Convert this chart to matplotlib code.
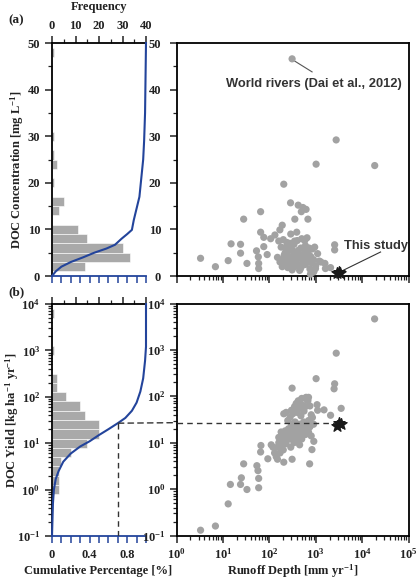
import matplotlib
matplotlib.use('Agg')
import matplotlib.pyplot as plt
import numpy as np
from matplotlib.patches import ConnectionPatch
from matplotlib.ticker import LogLocator, NullFormatter, MultipleLocator

plt.rcParams['font.family'] = ['Liberation Serif', 'DejaVu Serif']
plt.rcParams['font.weight'] = 'bold'
plt.rcParams['mathtext.fontset'] = 'custom'
plt.rcParams['mathtext.rm'] = 'Liberation Serif:bold'
plt.rcParams['mathtext.bf'] = 'Liberation Serif:bold'
plt.rcParams['mathtext.it'] = 'Liberation Serif:italic:bold'
plt.rcParams['axes.linewidth'] = 1.3

# ---------------- data ----------------
# histogram (a): DOC concentration bins (lower edge, width 2 mg/L) and counts
hist_a_lo = [1, 3, 5, 7, 9, 13, 15, 19, 23, 25, 29, 47]
hist_a_counts = [14, 33, 30, 15, 11, 3, 5, 1, 2, 1, 1, 1]
# cumulative curve (a)
cum_a_frac = [0, 0.04, 0.10, 0.20, 0.33, 0.45, 0.58, 0.67, 0.74, 0.80, 0.85, 0.87, 0.90, 0.93, 0.95, 0.97, 0.98, 0.99, 1.0]
cum_a_conc = [0, 1.0, 2.0, 3.0, 4.0, 5.0, 5.9, 6.7, 8.0, 9.0, 9.9, 12, 14.5, 17, 21, 25, 29, 35, 50]

# histogram (b): log10(DOC yield) bins (lower edge, width 0.2) and counts
hist_b_lo = [3.7, 2.9, 2.3, 2.1, 1.9, 1.7, 1.5, 1.3, 1.1, 0.9, 0.7, 0.5, 0.3, 0.1, -0.1]
hist_b_counts = [1, 1, 2, 2, 6, 12, 14, 20, 20, 15, 8, 4, 3, 3, 3]
# cumulative curve (b)
cum_b_frac = [0, 0.01, 0.02, 0.04, 0.07, 0.12, 0.20, 0.30, 0.40, 0.50, 0.60, 0.70, 0.78, 0.85, 0.90, 0.94, 0.97, 0.99, 1.0, 1.0]
cum_b_yield = [0.1, 0.5, 1.0, 1.7, 2.5, 4.0, 6.0, 8.5, 11, 15, 20, 27, 35, 50, 75, 130, 250, 600, 1200, 10000]

# world rivers: runoff [mm/yr] and DOC concentration [mg/L]  (panel a)
runoff_a = [310, 2760, 1020, 18700, 205, 287, 420, 530, 620, 490, 65, 28, 355, 680, 190, 65, 132, 169, 390, 76,
            107, 3.3, 6.9, 13, 15, 24, 24, 33, 53, 58, 59, 59, 76, 90, 2560, 2560, 2090, 1580, 1620, 770,
            910, 990, 160, 180, 200, 220, 240, 260, 280, 300, 320, 340, 360, 380, 400, 420, 440, 460, 480, 500,
            520, 540, 560, 580, 600, 620, 650, 680, 700, 720, 750, 780, 820, 850, 900, 950, 1000, 1100, 1200, 150,
            170, 190, 210, 230, 250, 270, 290, 310, 330, 350, 450, 240, 200, 350, 290, 600, 420, 260, 380, 520,
            640, 560, 470, 330, 230, 700, 800, 1300, 430, 300]
conc_a = [46.6, 29.2, 24.0, 23.7, 19.7, 15.7, 15.2, 14.7, 14.3, 13.8, 13.8, 12.2, 12.2, 12.2, 10.9, 9.4, 8.8, 9.9, 9.4, 8.3,
          8.0, 3.8, 2.0, 3.3, 6.9, 6.8, 4.9, 2.7, 5.4, 4.1, 2.7, 1.6, 6.3, 4.6, 6.7, 5.6, 1.8, 2.7, 1.6, 0.4,
          0.9, 1.6, 7.5, 6.2, 7.8, 5.0, 6.5, 4.2, 7.0, 5.8, 3.5, 6.8, 4.8, 2.8, 7.6, 5.5, 3.9, 2.2, 6.0, 8.0,
          4.5, 3.2, 5.8, 7.6, 2.5, 4.0, 8.2, 5.2, 3.0, 6.0, 1.5, 4.2, 2.8, 5.8, 3.5, 6.2, 2.2, 4.8, 3.2, 4.0,
          3.0, 2.0, 4.5, 3.0, 1.8, 5.5, 2.5, 1.3, 4.2, 2.0, 1.2, 7.2, 3.6, 7.5, 9.0, 6.5, 2.5, 3.2, 4.4, 3.8,
          5.0, 2.4, 1.6, 5.2, 6.0, 4.6, 3.6, 3.0, 4.8, 3.8]

# world rivers: runoff [mm/yr] and DOC yield [kg/ha/yr]  (panel b)
runoff_b = [18600, 2770, 1020, 310, 2560, 2490, 3540, 2090, 1510, 1070, 620, 680, 450, 205, 910, 830, 740, 310, 205, 141,
            150, 93, 66, 65, 28, 54, 57, 59, 59, 25, 14.5, 24, 33, 13, 6.9, 3.3, 230, 250, 280, 300,
            320, 350, 380, 400, 420, 450, 480, 500, 520, 560, 600, 650, 700, 750, 800, 850, 900, 1100, 700, 550,
            600, 500, 450, 400, 350, 300, 260, 220, 200, 180, 160, 150, 170, 190, 210, 240, 270, 290, 320, 340,
            380, 420, 460, 500, 550, 600, 650, 700, 750, 800, 250, 300, 350, 400, 450, 200, 180, 230, 120, 130,
            110, 330, 270, 380, 440, 520, 620, 160, 360, 480]
yield_b = [4650, 850, 240, 150, 186, 145, 55, 39, 51, 66, 95, 81, 69, 42, 10.7, 7.1, 3.5, 4.4, 3.8, 5.0,
           4.4, 4.5, 8.7, 6.3, 3.5, 3.2, 2.5, 1.7, 1.07, 1.75, 1.26, 1.26, 0.98, 0.48, 0.16, 0.13, 45, 30, 35, 50,
           42, 60, 70, 45, 80, 55, 38, 90, 65, 48, 60, 85, 95, 62, 40, 35, 25, 50, 30, 28,
           22, 20, 25, 18, 22, 16, 20, 18, 14, 12, 10, 8, 6, 9, 11, 13, 12, 8, 14, 10,
           15, 13, 16, 12, 18, 15, 19, 17, 22, 14, 15, 25, 18, 11, 9, 7, 17, 9.5, 8, 6,
           9, 12, 16, 20, 14, 24, 19, 13, 28, 21]

# this study
study_runoff_a = [2900, 3150, 3400]
study_conc_a = [0.7, 0.9, 0.6]
study_runoff_b = [2900, 3150, 3450]
study_yield_b = [23, 26, 25]
median_frac = 0.705
median_yield = 27
median_runoff = 2800

# ---------------- styling ----------------
W, H = 416, 580
fig = plt.figure(figsize=(W / 100, H / 100), dpi=100)
BLUE = '#23449b'
GRAY_BAR = '#a9a9a9'
GRAY_PT = '#a2a2a2'
TXT = '#222222'
FS = 9


def ax_px(x0, y0, x1, y1):
    return fig.add_axes([x0 / W, 1 - y1 / H, (x1 - x0) / W, (y1 - y0) / H])


def style_ticks(ax, axis='both'):
    ax.tick_params(axis=axis, which='major', direction='out', length=5, width=1.1, labelsize=FS, colors=TXT)
    ax.tick_params(axis=axis, which='minor', direction='out', length=2.8, width=0.9, colors=TXT)


def freq_on_top(ax, labels):
    ax.xaxis.set_ticks_position('top')
    ax.xaxis.set_label_position('top')
    ax.tick_params(axis='x', which='both', top=True, bottom=False, labeltop=labels, labelbottom=False, pad=3)


# ---------- left panel (a) ----------
ax_fa = ax_px(52, 43, 146, 276)
ax_fa.barh(hist_a_lo, hist_a_counts, height=2, align='edge', color=GRAY_BAR, edgecolor='white', linewidth=0.4)
ax_fa.set_xlim(0, 40)
ax_fa.set_ylim(0, 50)
ax_fa.xaxis.set_major_locator(MultipleLocator(10))
ax_fa.xaxis.set_minor_locator(MultipleLocator(5))
ax_fa.yaxis.set_major_locator(MultipleLocator(10))
ax_fa.yaxis.set_minor_locator(MultipleLocator(5))
style_ticks(ax_fa)
ax_fa.spines['right'].set_visible(False)
ax_fa.spines['bottom'].set_visible(False)

ax_ca = ax_fa.twiny()
freq_on_top(ax_fa, True)
ax_ca.plot(cum_a_frac, cum_a_conc, color=BLUE, lw=1.5, clip_on=False, zorder=5)
ax_ca.set_xlim(0, 1)
ax_ca.xaxis.set_ticks_position('bottom')
ax_ca.xaxis.set_major_locator(MultipleLocator(0.1))
ax_ca.xaxis.set_major_formatter(NullFormatter())
for s in ['top', 'right', 'left']:
    ax_ca.spines[s].set_visible(False)
ax_ca.spines['bottom'].set_color(BLUE)
ax_ca.spines['bottom'].set_linewidth(1.3)
ax_ca.tick_params(axis='x', which='major', direction='out', length=5, width=1.1, colors=BLUE,
                  top=False, bottom=True, labeltop=False)

# ---------- left panel (b) ----------
ax_fb = ax_px(52, 304, 146, 536)
hb_lo = [10 ** v for v in hist_b_lo]
hb_h = [10 ** (v + 0.2) - 10 ** v for v in hist_b_lo]
ax_fb.barh(hb_lo, hist_b_counts, height=hb_h, align='edge', color=GRAY_BAR, edgecolor='white', linewidth=0.4)
ax_fb.set_yscale('log')
ax_fb.set_xlim(0, 40)
ax_fb.set_ylim(0.1, 1e4)
ax_fb.xaxis.set_major_locator(MultipleLocator(10))
ax_fb.xaxis.set_minor_locator(MultipleLocator(5))
ax_fb.yaxis.set_major_locator(LogLocator(base=10, numticks=10))
ax_fb.yaxis.set_minor_locator(LogLocator(base=10, subs=np.arange(2, 10), numticks=10))
ax_fb.yaxis.set_minor_formatter(NullFormatter())
style_ticks(ax_fb)
ax_fb.spines['right'].set_visible(False)
ax_fb.spines['bottom'].set_visible(False)

ax_cb = ax_fb.twiny()
freq_on_top(ax_fb, False)
ax_cb.plot(cum_b_frac, cum_b_yield, color=BLUE, lw=1.5, clip_on=False, zorder=5)
ax_cb.set_xlim(0, 1)
ax_cb.set_ylim(0.1, 1e4)
ax_cb.xaxis.set_ticks_position('bottom')
ax_cb.xaxis.set_label_position('bottom')
ax_cb.xaxis.set_major_locator(MultipleLocator(0.1))
ax_cb.xaxis.set_major_formatter(plt.FuncFormatter(
    lambda v, p: {0: '0', 4: '0.4', 8: '0.8'}.get(int(round(v * 10)), '')))
for s in ['top', 'right', 'left']:
    ax_cb.spines[s].set_visible(False)
ax_cb.spines['bottom'].set_color(BLUE)
ax_cb.spines['bottom'].set_linewidth(1.3)
ax_cb.tick_params(axis='x', which='major', direction='out', length=5, width=1.1, colors=BLUE,
                  labelcolor=TXT, labelsize=FS, pad=4, top=False, bottom=True, labeltop=False, labelbottom=True)
ax_cb.plot([median_frac, median_frac], [0.1, median_yield], color='#333333', lw=1.0,
           linestyle=(0, (4, 3)), zorder=4)

# ---------- right panel (a) ----------
ax_ra = ax_px(176.5, 43, 408.5, 276)
ax_ra.scatter(runoff_a, conc_a, s=27, color=GRAY_PT, edgecolors='none', zorder=3, clip_on=False)
ax_ra.scatter(study_runoff_a, study_conc_a, s=70, marker='*', color='#1a1a1a', zorder=5, clip_on=False)
ax_ra.set_xscale('log')
ax_ra.set_xlim(1, 1e5)
ax_ra.set_ylim(0, 50)
ax_ra.yaxis.set_major_locator(MultipleLocator(10))
ax_ra.yaxis.set_minor_locator(MultipleLocator(5))
ax_ra.xaxis.set_major_locator(LogLocator(base=10, numticks=10))
ax_ra.xaxis.set_minor_locator(LogLocator(base=10, subs=np.arange(2, 10), numticks=10))
ax_ra.xaxis.set_major_formatter(NullFormatter())
ax_ra.xaxis.set_minor_formatter(NullFormatter())
style_ticks(ax_ra)
ax_ra.tick_params(axis='y', pad=6)
ax_ra.text(11.4, 41.2, 'World rivers (Dai et al., 2012)', fontfamily='Liberation Sans', fontweight='bold',
           fontsize=9.3, color='#333333', ha='left', va='center')
ax_ra.plot([330, 835], [46.3, 43.8], color='#555555', lw=0.8)
ax_ra.text(3980, 6.4, 'This study', fontfamily='Liberation Sans', fontweight='bold',
           fontsize=9.3, color='#333333', ha='left', va='center', clip_on=False)
ax_ra.plot([25000, 3400], [5.15, 0.92], color='#333333', lw=0.8, clip_on=False)

# ---------- right panel (b) ----------
ax_rb = ax_px(176.5, 303.5, 408.5, 535.5)
ax_rb.scatter(runoff_b, yield_b, s=27, color=GRAY_PT, edgecolors='none', zorder=3)
ax_rb.scatter(study_runoff_b, study_yield_b, s=70, marker='*', color='#1a1a1a', zorder=5)
ax_rb.set_xscale('log')
ax_rb.set_yscale('log')
ax_rb.set_xlim(1, 1e5)
ax_rb.set_ylim(0.1, 1e4)
for axis in (ax_rb.xaxis, ax_rb.yaxis):
    axis.set_major_locator(LogLocator(base=10, numticks=10))
    axis.set_minor_locator(LogLocator(base=10, subs=np.arange(2, 10), numticks=10))
    axis.set_minor_formatter(NullFormatter())
style_ticks(ax_rb)
ax_rb.tick_params(axis='y', pad=3)
ax_rb.tick_params(axis='x', pad=3)
ax_rb.plot([1, median_runoff], [median_yield, median_yield], color='#333333', lw=1.0,
           linestyle=(0, (4, 3)), zorder=4)

con = ConnectionPatch(xyA=(median_frac, median_yield), coordsA=ax_cb.transData,
                      xyB=(1, median_yield), coordsB=ax_rb.transData,
                      color='#333333', lw=1.0, linestyle=(0, (4, 3)))
fig.add_artist(con)

for ax in (ax_fa, ax_fb, ax_ra, ax_rb, ax_cb):
    for lab in ax.get_xticklabels() + ax.get_yticklabels():
        lab.set_fontweight('bold')

# ---------- texts ----------
fig.text(8 / W, 1 - 20 / H, '(a)', fontsize=9.5, color=TXT, ha='left', va='center')
fig.text(8 / W, 1 - 292 / H, '(b)', fontsize=9.5, color=TXT, ha='left', va='center')
fig.text(99 / W, 1 - 7 / H, 'Frequency', fontsize=FS, color=TXT, ha='center', va='center')
fig.text(17 / W, 1 - 170 / H, 'DOC Concentration [mg L$^{-1}$]', fontsize=FS, color=TXT,
         rotation=90, ha='center', va='center')
fig.text(12 / W, 1 - 420 / H, 'DOC Yield [kg ha$^{-1}$ yr$^{-1}$]', fontsize=FS, color=TXT,
         rotation=90, ha='center', va='center')
fig.text(98 / W, 1 - 571 / H, 'Cumulative Percentage [%]', fontsize=FS, color=TXT, ha='center', va='center')
fig.text(292.5 / W, 1 - 571 / H, 'Runoff Depth [mm yr$^{-1}$]', fontsize=FS, color=TXT, ha='center', va='center')

fig.savefig('out.png', dpi=100)
